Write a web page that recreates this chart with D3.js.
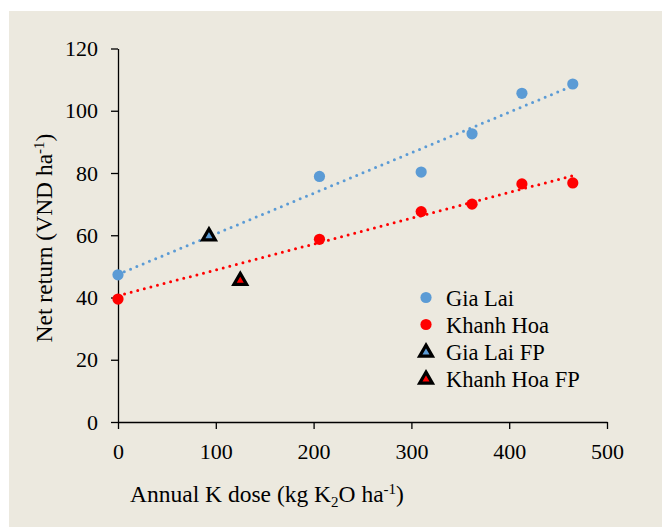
<!DOCTYPE html>
<html>
<head>
<meta charset="utf-8">
<script src="https://cdn.jsdelivr.net/npm/d3@7"></script>
<style>
  body { margin: 0; background: #fff; }
  svg text { font-family: "Liberation Serif", "Times New Roman", Times, Tinos, "Noto Serif", "DejaVu Serif", serif; fill: #000; }
</style>
</head>
<body>
<script>
var width  = 662;
var height = 527;
var serif  = '"Liberation Serif", "Times New Roman", Times, Tinos, "Noto Serif", "DejaVu Serif", serif';

// K dose (x) and net return (y)
var doses       = [0, 206, 310, 362, 413, 465];
var giaLai      = [47.3, 78.9, 80.3, 92.6, 105.6, 108.6];
var khanhHoa    = [39.5, 58.7, 67.6, 70.0, 76.5, 76.8];
var giaLaiFP    = [[93, 60]];
var khanhHoaFP  = [[125, 45.7]];
var xTicks      = [0, 100, 200, 300, 400, 500];
var yTicks      = [0, 20, 40, 60, 80, 100, 120];
var legendNames = ['Gia Lai', 'Khanh Hoa', 'Gia Lai FP', 'Khanh Hoa FP'];

var blue = '#5b9bd5';
var red  = '#ff0000';

var svg = d3.select('body').append('svg')
  .attr('width', width)
  .attr('height', height)
  .attr('font-family', serif);

svg.append('rect')
  .attr('x', 9).attr('y', 11)
  .attr('width', width - 9).attr('height', height - 11)
  .attr('fill', '#ece9df');

var x = d3.scaleLinear().domain([0, 500]).range([118, 607]);
var y = d3.scaleLinear().domain([0, 120]).range([422, 48.5]);

var xAxis = svg.append('g')
  .attr('transform', 'translate(0,422)')
  .call(d3.axisBottom(x).tickValues(xTicks).tickSize(7).tickPadding(14).tickSizeOuter(0));

var yAxis = svg.append('g')
  .attr('transform', 'translate(118,0)')
  .call(d3.axisLeft(y).tickValues(yTicks).tickSize(7).tickPadding(13).tickSizeOuter(0));

[xAxis, yAxis].forEach(function (g) {
  g.attr('font-family', serif).attr('font-size', 22);
  g.select('.domain').attr('stroke', '#000').attr('stroke-width', 1.3);
  g.selectAll('.tick line').attr('stroke', '#000').attr('stroke-width', 1.3);
  g.selectAll('.tick text')
    .style('font-family', serif)
    .style('font-size', '22px')
    .attr('fill', '#000');
});

// linear trendlines (least squares) over the plotted range
function fit(xs, ys) {
  var mx = d3.mean(xs), my = d3.mean(ys);
  var sxy = d3.sum(xs, function (v, i) { return (v - mx) * (ys[i] - my); });
  var sxx = d3.sum(xs, function (v) { return (v - mx) * (v - mx); });
  var b = sxy / sxx;
  return { a: my - b * mx, b: b };
}

function trend(ys, color) {
  var f = fit(doses, ys);
  var ends = d3.extent(doses);
  svg.append('line')
    .attr('x1', x(ends[0])).attr('y1', y(f.a + f.b * ends[0]))
    .attr('x2', x(ends[1])).attr('y2', y(f.a + f.b * ends[1]))
    .attr('stroke', color)
    .attr('stroke-width', 3)
    .attr('stroke-linecap', 'round')
    .attr('stroke-dasharray', '0,6.8');
}

trend(giaLai, blue);
trend(khanhHoa, red);

function dots(ys, color) {
  svg.append('g').selectAll('circle')
    .data(ys)
    .enter().append('circle')
    .attr('cx', function (d, i) { return x(doses[i]); })
    .attr('cy', function (d) { return y(d); })
    .attr('r', 5.6)
    .attr('fill', color);
}

dots(giaLai, blue);
dots(khanhHoa, red);

var tri = d3.symbol().type(d3.symbolTriangle).size(70);

function triangles(pts, color) {
  svg.append('g').selectAll('path')
    .data(pts)
    .enter().append('path')
    .attr('d', tri)
    .attr('transform', function (d) { return 'translate(' + x(d[0]) + ',' + (y(d[1]) + 1) + ')'; })
    .attr('fill', color)
    .attr('stroke', '#000')
    .attr('stroke-width', 3.2)
    .attr('stroke-linejoin', 'miter');
}

triangles(giaLaiFP, blue);
triangles(khanhHoaFP, red);

// axis titles
var xt = svg.append('text')
  .attr('x', 267).attr('y', 502)
  .attr('text-anchor', 'middle')
  .style('font-size', '23.5px');
xt.append('tspan').text('Annual K dose (kg K');
xt.append('tspan').attr('dy', 5).style('font-size', '15px').text('2');
xt.append('tspan').attr('dy', -5).text('O ha');
xt.append('tspan').attr('dy', -8).style('font-size', '15px').text('-1');
xt.append('tspan').attr('dy', 8).text(')');

var yt = svg.append('text')
  .attr('transform', 'translate(52,238) rotate(-90)')
  .attr('text-anchor', 'middle')
  .style('font-size', '23.5px');
yt.append('tspan').text('Net return (VND ha');
yt.append('tspan').attr('dy', -8).style('font-size', '15px').text('-1');
yt.append('tspan').attr('dy', 8).text(')');

// legend
var legend = svg.append('g').selectAll('g')
  .data(legendNames)
  .enter().append('g')
  .attr('transform', function (d, i) { return 'translate(426,' + (297.5 + i * 27) + ')'; });

legend.each(function (d, i) {
  var g = d3.select(this);
  if (i < 2) {
    g.append('circle').attr('r', 5.6).attr('fill', i === 0 ? blue : red);
  } else {
    g.append('path').attr('d', tri)
      .attr('transform', 'translate(0,1)')
      .attr('fill', i === 2 ? blue : red)
      .attr('stroke', '#000').attr('stroke-width', 3.2);
  }
  g.append('text')
    .attr('x', 20).attr('y', 8)
    .style('font-size', '22.5px')
    .text(d);
});
</script>
</body>
</html>
